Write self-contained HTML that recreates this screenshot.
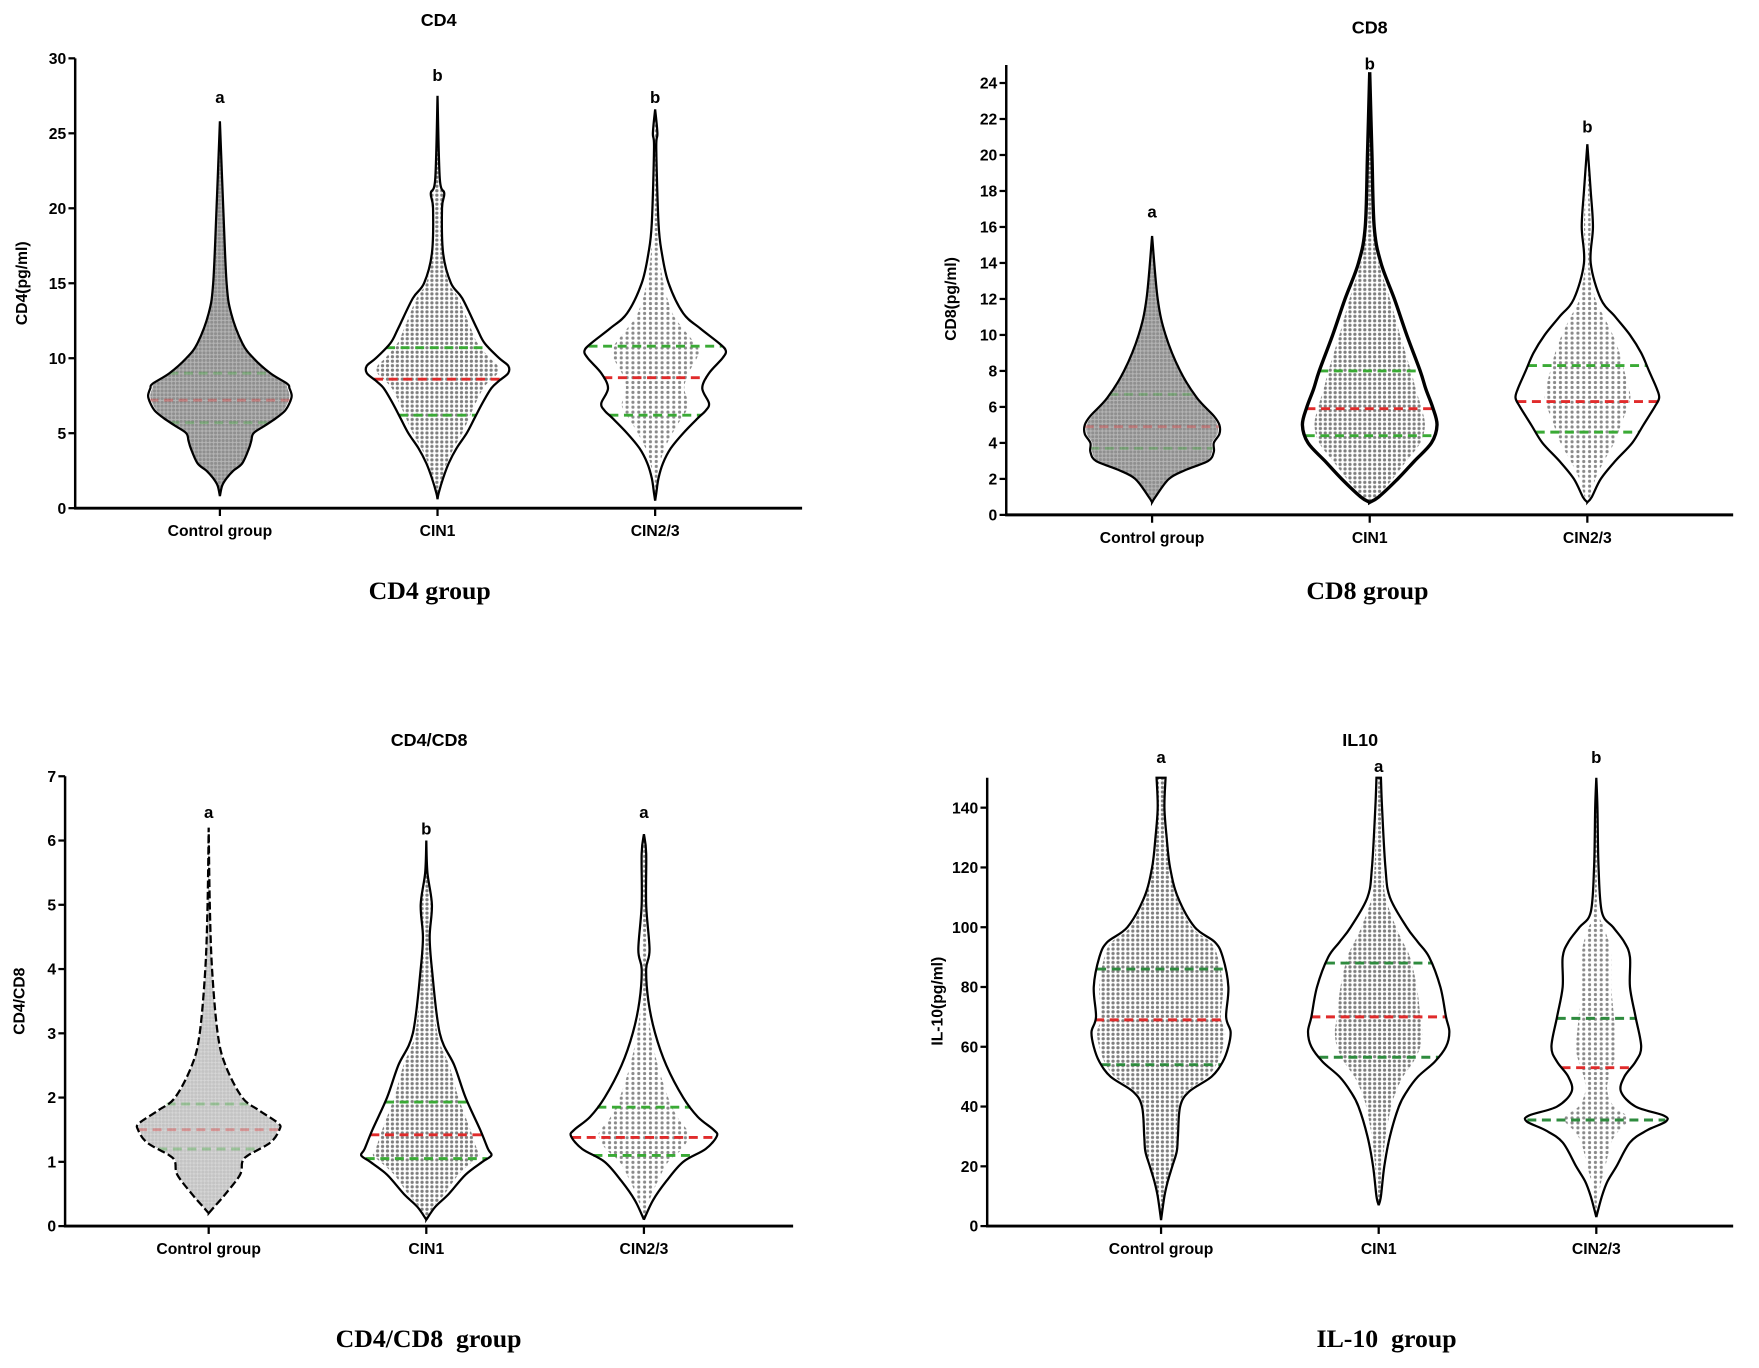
<!DOCTYPE html>
<html><head><meta charset="utf-8"><style>
html,body{margin:0;padding:0;background:#fff;}
svg{display:block;}
text{white-space:pre;}
</style></head><body>
<svg id="fig" xmlns="http://www.w3.org/2000/svg" width="1759" height="1368" viewBox="0 0 1568 1219.5">
<defs>
<pattern id="dotsDense" width="3.4" height="3.4" patternUnits="userSpaceOnUse"><rect width="3.4" height="3.4" fill="#b4b4b4"/><circle cx="1.7" cy="1.7" r="1.4" fill="#8f8f8f"/></pattern>
<pattern id="dotsMed" width="4.4" height="4.0" patternUnits="userSpaceOnUse"><circle cx="2.2" cy="2.0" r="1.45" fill="#7f7f7f"/></pattern>
<pattern id="dotsSparse" width="5.2" height="4.4" patternUnits="userSpaceOnUse"><circle cx="2.6" cy="2.2" r="1.4" fill="#8a8a8a"/></pattern>
<pattern id="dotsLight" width="3.2" height="3.2" patternUnits="userSpaceOnUse"><rect width="3.2" height="3.2" fill="#d6d6d6"/><circle cx="1.6" cy="1.6" r="1.4" fill="#c4c4c4"/></pattern>
</defs>
</svg>
<script>
// ---------- DATA ----------
var categories = ["Control group","CIN1","CIN2/3"];
// CD4 panel
var cd4Ticks = [0,5,10,15,20,25,30];
var cd4Letters = ["a","b","b"];
var cd4Medians = [7.2,8.6,8.7];
var cd4Q1 = [5.7,6.2,6.2];
var cd4Q3 = [9.0,10.7,10.8];
var cd4CtrlY = [0.8,1.5,2,2.5,3,4,4.5,5,5.5,6,6.5,7,7.5,8,8.3,9,10,11,13,15,20,25.8];
var cd4CtrlW = [0,2,6,12,20,26,28,30,40,50,58,62,64,62,60,45,30,20,10,6,3,0];
var cd4Cin1Y = [0.6,1,2,3,4,5,6,7,8,8.5,9,9.5,10,11,12,14,15,17,20,21,22,27.5];
var cd4Cin1W = [0,1,5,10,17,26,33,40,48,55,63,63,55,42,35,22,12,5,4,6,2,0];
var cd4Cin23Y = [0.5,1,2,3,4,5,6,6.5,7,8,9,10,10.5,11,12,13,15,17,19,24,25,26.6];
var cd4Cin23W = [0,1,3,7,14,25,38,45,48,42,48,60,63,57,40,25,12,6,3,1,2,0];
// CD8 panel
var cd8Ticks = [0,2,4,6,8,10,12,14,16,18,20,22,24];
var cd8Letters = ["a","b","b"];
var cd8Medians = [4.9,5.9,6.3];
var cd8Q1 = [3.7,4.4,4.6];
var cd8Q3 = [6.7,8.0,8.3];
var cd8CtrlY = [0.7,1,2,2.5,3,3.5,4,4.5,5,5.5,6.5,8,10,12,15.5];
var cd8CtrlW = [0,3,15,30,50,55,55,60,60,55,40,25,12,5,0];
var cd8Cin1Y = [0.7,1,2,3,4,5,6,7,8,10,12,14,16,20,24.6];
var cd8Cin1W = [0,8,25,40,55,60,56,50,45,33,22,10,4,2,0];
var cd8Cin23Y = [0.7,1,2,3,4,5,6,6.5,7,8,9,10,11,12,14,16,18,20.6];
var cd8Cin23W = [0,4,12,25,40,50,60,64,62,55,48,38,25,12,3,5,3,0];
// CD4/CD8 panel
var ratioTicks = [0,1,2,3,4,5,6,7];
var ratioLetters = ["a","b","a"];
var ratioMedians = [1.5,1.42,1.38];
var ratioQ1 = [1.2,1.05,1.1];
var ratioQ3 = [1.9,1.93,1.85];
var ratioCtrlY = [0.2,0.3,0.5,0.8,1,1.1,1.3,1.5,1.6,1.8,2,2.5,3,4,5,6.2];
var ratioCtrlW = [0,5,15,28,30,35,55,63,62,45,30,15,8,3,1,0];
var ratioCin1Y = [0.1,0.3,0.5,0.8,1,1.1,1.2,1.5,2,2.5,3,4,4.5,5,5.5,6];
var ratioCin1W = [0,8,20,35,50,58,55,48,35,25,12,5,3,5,1,0];
var ratioCin23Y = [0.1,0.4,0.7,1,1.2,1.4,1.5,1.7,2,2.5,3,3.5,4,4.3,5,5.8,6.1];
var ratioCin23W = [0,8,20,35,55,65,62,48,35,20,10,4,2,5,2,2,0];
// IL-10 panel
var il10Ticks = [0,20,40,60,80,100,120,140];
var il10Letters = ["a","a","b"];
var il10Medians = [69,70,53];
var il10Q1 = [54,56.5,35.5];
var il10Q3 = [86,88,69.5];
var il10CtrlY = [2,10,15,20,25,30,40,45,50,55,60,65,70,80,90,95,100,110,120,130,140,150];
var il10CtrlW = [0,3,6,10,14,15,17,25,45,55,60,62,58,60,55,48,30,15,8,5,3,4];
var il10Cin1Y = [7,10,20,30,40,45,50,55,60,65,70,80,90,95,100,110,120,140,150];
var il10Cin1W = [0,2,5,10,18,25,35,50,60,63,60,55,45,35,25,10,6,3,2];
var il10Cin23Y = [3,10,15,20,28,32,35,37,40,45,50,55,60,70,80,90,95,100,105,120,140,150];
var il10Cin23W = [0,5,10,18,30,45,62,60,35,22,25,35,40,35,30,30,25,15,5,2,1,0];

// ---------- LAYOUT ----------
var NS = "http://www.w3.org/2000/svg";
var svg = document.getElementById("fig");
function mk(tag, attrs, parent){
  var e = document.createElementNS(NS, tag);
  for (var k in attrs) e.setAttribute(k, attrs[k]);
  (parent||svg).appendChild(e);
  return e;
}
function txt(s, attrs, parent){ var t = mk("text", attrs, parent); t.textContent = s; return t; }

var panels = [
 {id:"cd4", title:"CD4", ylab:"CD4(pg/ml)", group:"CD4 group", ax:67, y0:453, ytop:52, vmax:30, xend:715, cx:[196,390,584],
  ticks:cd4Ticks, letters:cd4Letters, letterY:[92,72,92], med:cd4Medians, q1:cd4Q1, q3:cd4Q3,
  vy:[cd4CtrlY,cd4Cin1Y,cd4Cin23Y], vw:[cd4CtrlW,cd4Cin1W,cd4Cin23W], fills:["dotsDense","dotsMed","dotsSparse"], frac:[0.97,0.85,0.62],
  titleY:23, groupY:534, groupX:383, ylabX:24, sw:[2,2,2], q1c:"#3aaa35"},
 {id:"cd8", title:"CD8", ylab:"CD8(pg/ml)", group:"CD8 group", ax:897, y0:459, ytop:74, vmax:24, vtop:25, xend:1545, cx:[1027,1221,1415],
  ticks:cd8Ticks, letters:cd8Letters, letterY:[194,62,118], med:cd8Medians, q1:cd8Q1, q3:cd8Q3,
  vy:[cd8CtrlY,cd8Cin1Y,cd8Cin23Y], vw:[cd8CtrlW,cd8Cin1W,cd8Cin23W], fills:["dotsDense","dotsMed","dotsSparse"], frac:[0.97,0.82,0.6],
  titleY:30, groupY:534, groupX:1219, ylabX:852, sw:[2,3,2], q1c:"#3aaa35"},
 {id:"ratio", title:"CD4/CD8", ylab:"CD4/CD8", group:"CD4/CD8  group", ax:58, y0:1093, ytop:692, vmax:7, xend:707, cx:[186,380,574],
  ticks:ratioTicks, letters:ratioLetters, letterY:[729,744,729], med:ratioMedians, q1:ratioQ1, q3:ratioQ3,
  vy:[ratioCtrlY,ratioCin1Y,ratioCin23Y], vw:[ratioCtrlW,ratioCin1W,ratioCin23W], fills:["dotsLight","dotsMed","dotsSparse"], frac:[0.98,0.82,0.62],
  titleY:665, groupY:1201, groupX:382, ylabX:22, sw:[2,2,2], q1c:"#3aaa35", dashCtrl:true},
 {id:"il10", title:"IL10", ylab:"IL-10(pg/ml)", group:"IL-10  group", ax:880, y0:1093, ytop:692, vmax:150, scaleMax:140, scaleTopY:720, xend:1545, cx:[1035,1229,1423],
  ticks:il10Ticks, letters:il10Letters, letterY:[680,688,680], med:il10Medians, q1:il10Q1, q3:il10Q3,
  vy:[il10CtrlY,il10Cin1Y,il10Cin23Y], vw:[il10CtrlW,il10Cin1W,il10Cin23W], fills:["dotsMed","dotsMed","dotsSparse"], frac:[0.92,0.62,0.45],
  titleY:665, groupY:1201, groupX:1236, ylabX:840, sw:[2,2,2], q1c:"#2e8b3e"}
];

function widthAt(ys, ws, v){
  if (v<=ys[0]||v>=ys[ys.length-1]) return 0;
  for (var i=1;i<ys.length;i++){ if (v<=ys[i]){ var t=(v-ys[i-1])/(ys[i]-ys[i-1]); return ws[i-1]+t*(ws[i]-ws[i-1]); } }
  return 0;
}
function violinPath(cx, ys, ws, yf, k){
  var pts=[]; for (var i=0;i<ys.length;i++) pts.push([ws[i]*k, yf(ys[i])]);
  function seg(p, sign){
    var d="";
    for (var i=0;i<p.length-1;i++){
      var p0=p[Math.max(0,i-1)], p1=p[i], p2=p[i+1], p3=p[Math.min(p.length-1,i+2)];
      var c1=[p1[0]+(p2[0]-p0[0])/6, p1[1]+(p2[1]-p0[1])/6];
      var c2=[p2[0]-(p3[0]-p1[0])/6, p2[1]-(p3[1]-p1[1])/6];
      d+=" C"+(cx+sign*Math.max(0,c1[0])).toFixed(2)+","+c1[1].toFixed(2)+" "+(cx+sign*Math.max(0,c2[0])).toFixed(2)+","+c2[1].toFixed(2)+" "+(cx+sign*p2[0]).toFixed(2)+","+p2[1].toFixed(2);
    }
    return d;
  }
  var d="M"+(cx+pts[0][0])+","+pts[0][1]+seg(pts,1);
  var rev=pts.slice().reverse();
  d+=" L"+(cx-rev[0][0])+","+rev[0][1]+seg(rev,-1)+" Z";
  return d;
}

panels.forEach(function(P, pi){
  var g = mk("g", {});
  
  
  var refMax = P.scaleMax||P.vmax, refY = P.scaleTopY||P.ytop;
  function yf(v){ return P.y0 - v*(P.y0-refY)/refMax; }
  var font = '"Liberation Sans", Arial, sans-serif';
  var t = txt(P.title, {x:(P.ax+P.xend)/2, y:P.titleY, "text-anchor":"middle", "font-family":font, "font-weight":"bold", "font-size":"16"}, g);
  
  
  for (var i=0;i<3;i++){
    var cx=P.cx[i];
    var clipId="clip-"+P.id+"-"+i;
    var cp = mk("clipPath", {id:clipId}, g);
    mk("path", {d:violinPath(cx,P.vy[i],P.vw[i],yf,P.frac[i])}, cp);
    var dots = mk("rect", {x:cx-70, y:yf(P.vy[i][P.vy[i].length-1])-2, width:140, height:yf(P.vy[i][0])-yf(P.vy[i][P.vy[i].length-1])+4, fill:"url(#"+P.fills[i]+")", "clip-path":"url(#"+clipId+")"}, g);
    
    
    var lines=[[P.q1[i],P.q1c],[P.q3[i],P.q1c],[P.med[i],"#e02b2b"]];
    lines.forEach(function(L, li){
      var w = widthAt(P.vy[i],P.vw[i],L[0]);
      var op = (i===0 && pi!==3) ? 0.35 : 1;
      var ln = mk("line", {x1:cx-w, x2:cx+w, y1:yf(L[0]), y2:yf(L[0]), stroke:L[1], "stroke-width":2.6, "stroke-dasharray":"8,5", opacity:op}, g);
      
      
    });
    var vp = mk("path", {d:violinPath(cx,P.vy[i],P.vw[i],yf,1), fill:"none", stroke:"#000", "stroke-width":P.sw[i]}, g);
    if (P.dashCtrl && i===0) vp.setAttribute("stroke-dasharray","7,3");
    
    
    var lt = txt(P.letters[i], {x:cx, y:P.letterY[i], "text-anchor":"middle", "font-family":font, "font-weight":"bold", "font-size":"15"}, g);
    
    
    var xt = mk("line", {x1:cx, x2:cx, y1:P.y0, y2:P.y0+7, stroke:"#000", "stroke-width":2}, g);
    
    
    var xl = txt(categories[i], {x:cx, y:P.y0+25, "text-anchor":"middle", "font-family":font, "font-weight":"bold", "font-size":"14"}, g);
    
    
  }
  var ya = mk("line", {x1:P.ax, x2:P.ax, y1:yf(P.vtop||P.vmax), y2:P.y0+1, stroke:"#000", "stroke-width":2.2}, g);
  
  
  var xa = mk("line", {x1:P.ax-1, x2:P.xend, y1:P.y0, y2:P.y0, stroke:"#000", "stroke-width":2.6}, g);
  
  
  P.ticks.forEach(function(v){
    var tk = mk("line", {x1:P.ax-6, x2:P.ax, y1:yf(v), y2:yf(v), stroke:"#000", "stroke-width":2}, g);
    
    
    var tl = txt(String(v), {x:P.ax-8, y:yf(v)+5, "text-anchor":"end", "font-family":font, "font-weight":"bold", "font-size":"14"}, g);
    
    
  });
  var yc = (P.y0+P.ytop)/2;
  var yl = txt(P.ylab, {x:P.ylabX, y:yc, "text-anchor":"middle", "font-family":font, "font-weight":"bold", "font-size":"14", transform:"rotate(-90 "+P.ylabX+" "+yc+")"}, g);
  
  
  var gl = txt(P.group, {x:P.groupX, y:P.groupY, "text-anchor":"middle", "font-family":'"Liberation Serif", "Times New Roman", serif', "font-weight":"bold", "font-size":"23"}, g);
  
  
});
</script>
</body></html>
